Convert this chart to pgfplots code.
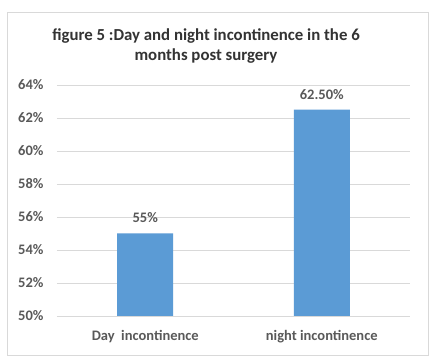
\documentclass[border=0pt]{standalone}
\usepackage{pgfplots}
\pgfplotsset{compat=1.18}
\usepackage{fontspec}
\setmainfont{Carlito}
\definecolor{barblue}{HTML}{5B9BD5}
\definecolor{txtgray}{HTML}{595959}
\definecolor{gridgray}{HTML}{D9D9D9}
\begin{document}
\begin{tikzpicture}[x=1pt,y=1pt]
\useasboundingbox (0,0) rectangle (432,361);
\fill[white] (0,0) rectangle (432,361);
\draw[gridgray, line width=0.8pt] (7,6) rectangle (428,349);
\node[font=\bfseries\fontsize{16.8}{20}\selectfont, text=black!80, align=center] at (206,315) {figure 5 :Day and night incontinence in the 6\\months post surgery};
\begin{axis}[
  at={(57pt,45pt)}, anchor=south west,
  scale only axis, width=353pt, height=231pt,
  xmin=-0.5, xmax=1.5, ymin=50, ymax=64,
  ytick={50,52,...,64},
  yticklabel={\pgfmathprintnumber{\tick}\%},
  /pgf/number format/assume math mode=true,
  xtick=data,
  xticklabels={Day\ \ incontinence, night incontinence},
  ymajorgrids, grid style={gridgray, line width=0.8pt},
  axis line style={draw=none},
  major tick length=0pt,
  tick label style={font=\bfseries\fontsize{14.5}{16}\selectfont, text=txtgray},
  yticklabel style={xshift=-10pt},
  xticklabel style={yshift=-11pt},
  ybar, bar width=56pt,
  nodes near coords,
  point meta=explicit symbolic,
  every node near coord/.append style={font=\bfseries\fontsize{14.5}{16}\selectfont, text=txtgray, yshift=7pt},
]
\addplot[fill=barblue, draw=none] coordinates {(0,55) [55\%] (1,62.5) [62.50\%]};
\end{axis}
\end{tikzpicture}
\end{document}
